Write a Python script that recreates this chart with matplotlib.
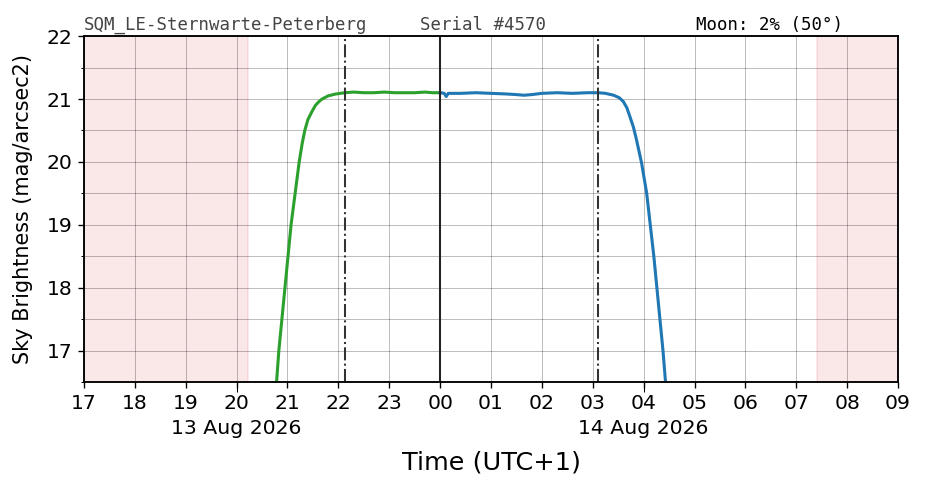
import pandas as pd
import matplotlib
matplotlib.use("Agg")
import matplotlib.pyplot as plt
import matplotlib.dates as mdates
import matplotlib.ticker as mticker

# times in hours after 13 Aug 2026 00:00 (UTC+1)
green_t = [20.77, 20.785, 20.83, 20.89, 20.95, 21.01, 21.07, 21.15, 21.23, 21.29, 21.34,
           21.40, 21.48, 21.55, 21.62, 21.68, 21.80, 21.95, 22.13, 22.3, 22.5, 22.7, 22.9, 23.1,
           23.3, 23.5, 23.7, 23.85, 24.0]
green_mag = [16.4, 16.5, 17.0, 17.5, 18.0, 18.5, 19.0, 19.5, 20.0, 20.3, 20.5,
             20.67, 20.8, 20.9, 20.96, 21.0, 21.05, 21.08, 21.1, 21.11, 21.1, 21.1, 21.11, 21.1,
             21.1, 21.1, 21.11, 21.1, 21.1]

blue_t = [24.0, 24.08, 24.12, 24.16, 24.4, 24.7, 25.0, 25.3, 25.5, 25.65, 25.8, 26.0, 26.3,
          26.6, 26.9, 27.11, 27.25, 27.41, 27.52, 27.60, 27.67, 27.73, 27.80, 27.86, 27.96,
          28.06, 28.13, 28.20, 28.26, 28.32, 28.38, 28.43, 28.45]
blue_mag = [21.1, 21.09, 21.04, 21.09, 21.09, 21.1, 21.09, 21.08, 21.07, 21.06, 21.07, 21.09, 21.1,
            21.09, 21.1, 21.1, 21.09, 21.06, 21.02, 20.96, 20.86, 20.72, 20.55, 20.35, 19.98,
            19.5, 19.0, 18.5, 18.0, 17.5, 17.0, 16.5, 16.4]

twilight_lines = [22.13, 27.11]
day_spans = [(17.0, 20.22), (31.41, 33.0)]
date_labels = ["13 Aug 2026", "14 Aug 2026"]
date_label_hours = [20.0, 28.0]

base = pd.Timestamp("2026-08-13 00:00")
def to_dt(hours):
    return [base + pd.Timedelta(hours=h) for h in hours]

dpi = 122.5
fig = plt.figure(figsize=(926 / dpi, 488 / dpi), dpi=dpi)
ax = fig.add_axes([0.0907, 0.2172, 0.8791, 0.7088])

for s, e in day_spans:
    ax.axvspan(to_dt([s])[0], to_dt([e])[0], color="tab:red", alpha=0.11, lw=1)

ax.plot(to_dt(green_t), green_mag, color="#2ca02c", lw=1.8)
ax.plot(to_dt(blue_t), blue_mag, color="#1f77b4", lw=1.8)

for h in twilight_lines:
    ax.axvline(to_dt([h])[0], color="#333333", ls="-.", lw=1.2)
ax.axvline(to_dt([24.0])[0], color="#222222", ls="-", lw=1.2)

ax.set_xlim(to_dt([17.0])[0], to_dt([33.0])[0])
ax.set_ylim(16.5, 22)

ax.xaxis.remove_overlapping_locs = False
ax.xaxis.set_major_locator(mdates.HourLocator())
ax.xaxis.set_major_formatter(mdates.DateFormatter("%H"))
ax.xaxis.set_minor_locator(mticker.FixedLocator(mdates.date2num(to_dt(date_label_hours))))
ax.xaxis.set_minor_formatter(mticker.FixedFormatter(date_labels))
ax.tick_params(axis="x", which="minor", length=6, pad=16, labelsize=12)
ax.tick_params(axis="both", which="major", labelsize=12)

ax.yaxis.set_major_locator(mticker.MultipleLocator(1))
ax.yaxis.set_minor_locator(mticker.MultipleLocator(0.5))

ax.grid(which="major", color="k", alpha=0.3, lw=0.5)
ax.grid(which="minor", axis="y", color="k", alpha=0.3, lw=0.5)
for sp in ax.spines.values():
    sp.set_linewidth(1.1)

ax.set_xlabel("Time (UTC+1)", fontsize=15, labelpad=7)
ax.set_ylabel("Sky Brightness (mag/arcsec2)", fontsize=12.2, labelpad=8)

fig.text(84 / 926, 1 - 30 / 488, "SQM_LE-Sternwarte-Peterberg", family="DejaVu Sans Mono",
         fontsize=10.2, color="#444444")
fig.text(420 / 926, 1 - 30 / 488, "Serial #4570", family="DejaVu Sans Mono",
         fontsize=10.2, color="#444444")
fig.text(696 / 926, 1 - 30 / 488, "Moon: 2% (50°)", family="DejaVu Sans Mono",
         fontsize=10.2, color="black")

fig.savefig("out.png", dpi=dpi)
